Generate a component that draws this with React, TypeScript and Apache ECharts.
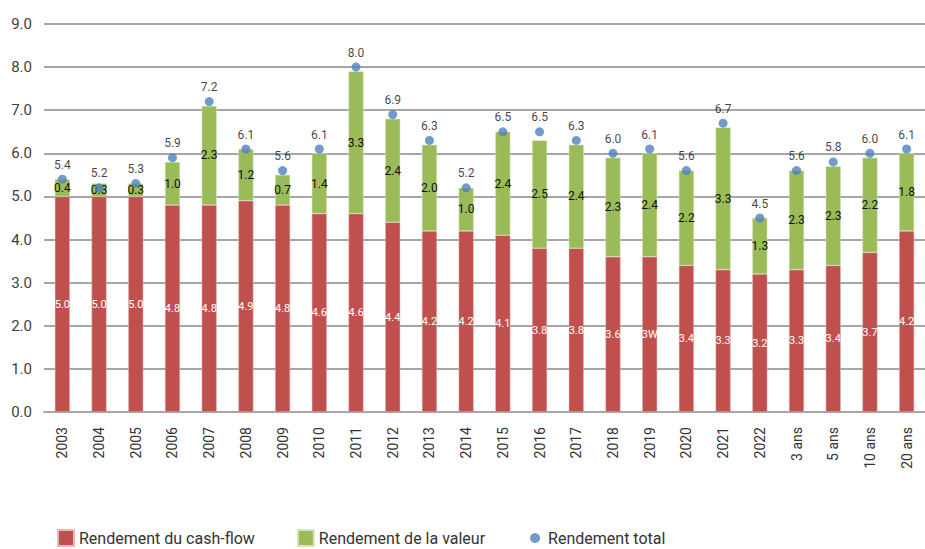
import React, { useEffect, useRef } from "react";
import * as echarts from "echarts";

const categories = ["2003","2004","2005","2006","2007","2008","2009","2010","2011","2012","2013","2014","2015","2016","2017","2018","2019","2020","2021","2022","3 ans","5 ans","10 ans","20 ans"];
const cashFlow = [5.0,5.0,5.0,4.8,4.8,4.9,4.8,4.6,4.6,4.4,4.2,4.2,4.1,3.8,3.8,3.6,3.6,3.4,3.3,3.2,3.3,3.4,3.7,4.2];
const cashFlowLabels = ["5.0","5.0","5.0","4.8","4.8","4.9","4.8","4.6","4.6","4.4","4.2","4.2","4.1","3.8","3.8","3.6","3W","3.4","3.3","3.2","3.3","3.4","3.7","4.2"];
const valeur = [0.4,0.3,0.3,1.0,2.3,1.2,0.7,1.4,3.3,2.4,2.0,1.0,2.4,2.5,2.4,2.3,2.4,2.2,3.3,1.3,2.3,2.3,2.2,1.8];
const total = [5.4,5.2,5.3,5.9,7.2,6.1,5.6,6.1,8.0,6.9,6.3,5.2,6.5,6.5,6.3,6.0,6.1,5.6,6.7,4.5,5.6,5.8,6.0,6.1];

const FONT = "Roboto, 'Liberation Sans', sans-serif";
const DOT_ICON = "path://M0,0L0.01,0L0.01,0.01Z M16,16L15.99,16L15.99,15.99Z M8,3A5,5 0 1 1 7.99,3Z";

export default function App() {
  const ref = useRef<HTMLDivElement>(null);
  useEffect(() => {
    if (!ref.current) return;
    const chart = echarts.init(ref.current, null, { renderer: "svg" });
    chart.setOption({
      animation: false,
      textStyle: { fontFamily: FONT },
      grid: { left: 44, right: -9, top: 24, bottom: 137, containLabel: false },
      legend: {
        top: 529,
        left: 57,
        padding: 0,
        itemGap: 42,
        itemWidth: 16,
        itemHeight: 16,
        textStyle: { fontFamily: FONT, fontSize: 16, color: "#333" },
        data: [
          { name: "Rendement du cash-flow", icon: "rect" },
          { name: "Rendement de la valeur", icon: "rect" },
          { name: "Rendement total", icon: DOT_ICON, itemStyle: { color: "#4f81bd" } },
        ],
      },
      xAxis: {
        type: "category",
        data: categories,
        axisTick: { show: false },
        axisLine: { lineStyle: { color: "#a6a6a6", width: 2 } },
        axisLabel: { rotate: 90, fontFamily: FONT, fontSize: 14, color: "#333", margin: 15 },
      },
      yAxis: {
        type: "value",
        min: 0,
        max: 9,
        interval: 1,
        axisLine: { show: false },
        axisTick: { show: false },
        splitLine: { lineStyle: { color: "#a6a6a6", width: 2 } },
        axisLabel: { fontFamily: FONT, fontSize: 15, color: "#404040", margin: 12, formatter: (v: number) => v.toFixed(1) },
      },
      series: [
        {
          name: "Rendement du cash-flow",
          type: "bar",
          stack: "s",
          data: cashFlow,
          barWidth: 15,
          itemStyle: { color: "#c0504d", borderColor: "#e6b9b8", borderWidth: 0.5 },
          label: {
            show: true,
            position: "inside",
            color: "#fff",
            fontFamily: FONT,
            fontSize: 11,
            formatter: (p: any) => cashFlowLabels[p.dataIndex],
          },
        },
        {
          name: "Rendement de la valeur",
          type: "bar",
          stack: "s",
          data: valeur,
          barWidth: 15,
          itemStyle: { color: "#9bbb59", borderColor: "#d7e4bd", borderWidth: 0.5 },
          label: {
            show: true,
            position: "inside",
            color: "#111",
            fontFamily: FONT,
            fontSize: 12,
            formatter: (p: any) => Number(p.value).toFixed(1),
          },
        },
        {
          name: "Rendement total",
          type: "scatter",
          data: total,
          symbol: "circle",
          symbolSize: 9,
          itemStyle: { color: "#4f81bd" },
          z: 5,
          label: {
            show: true,
            position: "top",
            distance: 4,
            color: "#111",
            fontFamily: FONT,
            fontSize: 12,
            formatter: (p: any) => Number(p.value).toFixed(1),
          },
        },
      ],
    });
    return () => chart.dispose();
  }, []);
  return <div ref={ref} style={{ width: 925, height: 549, position: "absolute", left: 0, top: 0 }} />;
}
